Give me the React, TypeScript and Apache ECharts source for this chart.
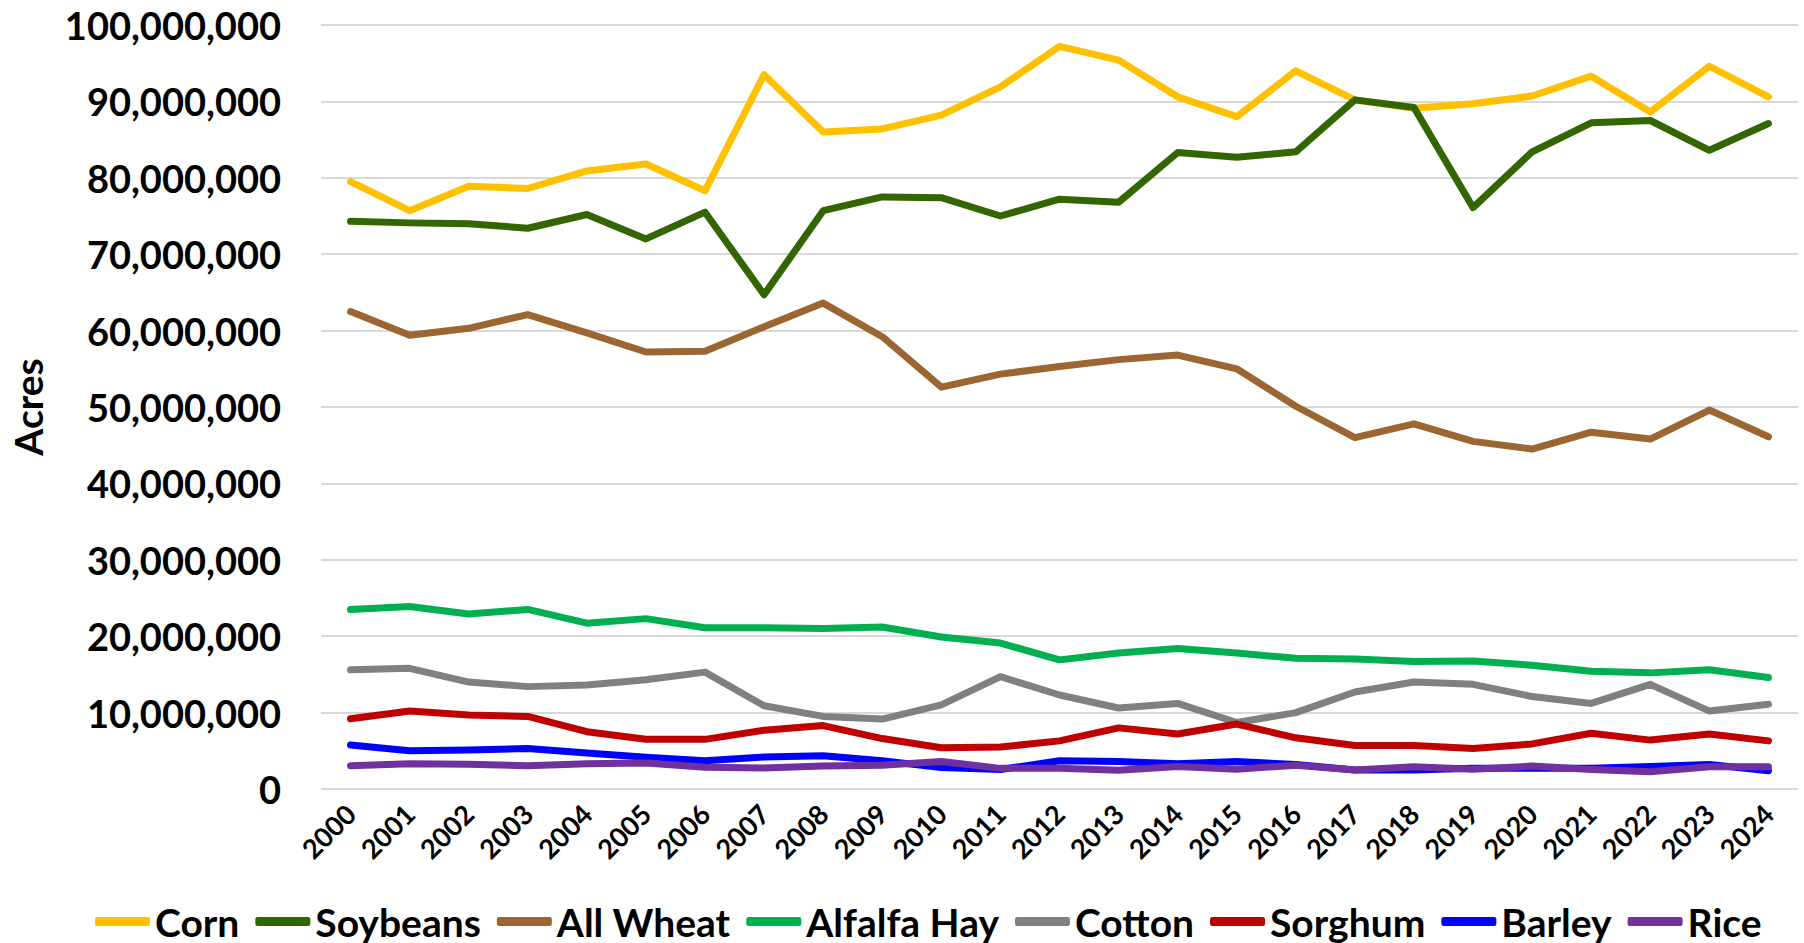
import React, { useEffect, useRef } from "react";
import * as echarts from "echarts";

const years = ["2000","2001","2002","2003","2004","2005","2006","2007","2008","2009","2010","2011","2012","2013","2014","2015","2016","2017","2018","2019","2020","2021","2022","2023","2024"];

const corn = [79.5,75.7,78.9,78.6,80.9,81.8,78.3,93.5,86.0,86.4,88.2,91.9,97.2,95.4,90.6,88.0,94.0,90.2,89.1,89.7,90.7,93.3,88.6,94.6,90.6];
const soybeans = [74.3,74.1,74.0,73.4,75.2,72.0,75.5,64.7,75.7,77.5,77.4,75.0,77.2,76.8,83.3,82.7,83.4,90.2,89.2,76.1,83.4,87.2,87.5,83.6,87.1];
const allWheat = [62.5,59.4,60.3,62.1,59.7,57.2,57.3,60.5,63.6,59.2,52.6,54.3,55.3,56.2,56.8,55.0,50.1,46.0,47.8,45.5,44.5,46.7,45.8,49.6,46.1];
const alfalfaHay = [23.5,23.9,22.9,23.5,21.7,22.3,21.1,21.1,21.0,21.2,19.9,19.1,16.9,17.8,18.4,17.8,17.1,17.0,16.7,16.75,16.2,15.4,15.2,15.6,14.6];
const cotton = [15.6,15.8,14.0,13.4,13.6,14.3,15.3,10.9,9.5,9.15,11.0,14.7,12.3,10.6,11.2,8.7,10.0,12.7,14.0,13.7,12.1,11.2,13.7,10.2,11.1];
const sorghum = [9.2,10.2,9.7,9.5,7.5,6.5,6.5,7.7,8.3,6.6,5.4,5.5,6.3,8.0,7.2,8.5,6.7,5.7,5.7,5.3,5.9,7.3,6.4,7.2,6.3];
const barley = [5.75,5.0,5.1,5.3,4.7,4.15,3.7,4.2,4.35,3.7,2.8,2.55,3.7,3.6,3.3,3.6,3.2,2.5,2.5,2.7,2.7,2.7,2.95,3.2,2.4];
const rice = [3.05,3.3,3.25,3.05,3.3,3.4,2.85,2.75,3.0,3.1,3.6,2.7,2.7,2.45,2.95,2.6,3.1,2.5,2.9,2.6,3.0,2.55,2.25,2.9,2.9];

const seriesNames = ["Corn","Soybeans","All Wheat","Alfalfa Hay","Cotton","Sorghum","Barley","Rice"];
const seriesData = [corn, soybeans, allWheat, alfalfaHay, cotton, sorghum, barley, rice];
const seriesColors = ["#FFC000","#336600","#9C6633","#00B050","#808080","#C00000","#0000FF","#7030A0"];

const FONT = "Lato";

export default function App() {
  const ref = useRef<HTMLDivElement>(null);
  useEffect(() => {
    if (!ref.current) return;
    const chart = echarts.init(ref.current, undefined, { renderer: "svg" });
    chart.setOption({
      animation: false,
      grid: { left: 315, right: 6, top: 25, bottom: 154, containLabel: false },
      legend: {
        top: 897,
        left: 90,
        itemWidth: 55,
        itemHeight: 9,
        itemGap: 16,
        icon: "roundRect",
        textStyle: { fontFamily: FONT, fontWeight: "bold", fontSize: 39, color: "#000" },
        data: seriesNames,
      },
      xAxis: {
        type: "category",
        data: years,
        boundaryGap: true,
        axisLine: { show: false },
        axisTick: { show: false },
        axisLabel: { rotate: 45, interval: 0, margin: 20, fontFamily: FONT, fontWeight: "bold", fontSize: 27, color: "#000" },
      },
      yAxis: {
        type: "value",
        min: 0,
        max: 100000000,
        interval: 10000000,
        name: "Acres",
        nameLocation: "middle",
        nameRotate: 90,
        nameGap: 274,
        nameTextStyle: { fontFamily: FONT, fontWeight: "bold", fontSize: 39, color: "#000" },
        axisLine: { show: false },
        axisTick: { show: false },
        splitLine: { lineStyle: { color: "#D9D9D9", width: 2 } },
        axisLabel: {
          margin: 40,
          fontFamily: FONT,
          fontWeight: "bold",
          fontSize: 38,
          color: "#000",
          formatter: (v: number) => v.toLocaleString("en-US"),
        },
      },
      series: seriesNames.map((name, i) => ({
        name,
        type: "line",
        data: seriesData[i].map((v) => Math.round(v * 1000000)),
        symbol: "none",
        smooth: false,
        color: seriesColors[i],
        lineStyle: { width: 7, color: seriesColors[i], cap: "round", join: "round" },
      })),
    });
    return () => chart.dispose();
  }, []);
  return (
    <div
      ref={ref}
      style={{ position: "absolute", left: 0, top: 0, width: 1804, height: 943 }}
    />
  );
}
